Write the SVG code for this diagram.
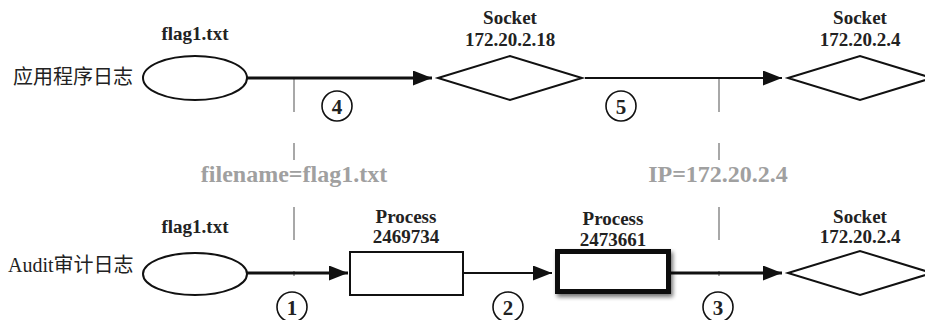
<svg xmlns="http://www.w3.org/2000/svg" width="925" height="320" viewBox="0 0 925 320">
  <defs>
    <marker id="arrow" markerUnits="userSpaceOnUse" markerWidth="19" markerHeight="15" refX="19" refY="7.5" orient="auto">
      <path d="M0,0 L19,7.5 L0,15 z" fill="#111"/>
    </marker>
    <filter id="shadow" x="-20%" y="-30%" width="150%" height="170%">
      <feGaussianBlur in="SourceAlpha" stdDeviation="2"/>
      <feOffset dx="2" dy="3" result="b"/>
      <feComponentTransfer><feFuncA type="linear" slope="0.55"/></feComponentTransfer>
      <feMerge><feMergeNode/><feMergeNode in="SourceGraphic"/></feMerge>
    </filter>
    <style>
      .shape { fill: #fff; stroke: #111; stroke-width: 2; }
      .bold-box { fill: #fff; stroke: #111; stroke-width: 5; }
      .lbl { font-family: "Liberation Serif", "Times New Roman", serif; font-weight: bold; font-size: 19px; fill: #222; text-anchor: middle; }
      .row { font-family: "Liberation Serif", "Noto Sans CJK SC", serif; font-size: 20px; fill: #222; }
      .cond { font-family: "Liberation Serif", serif; font-weight: bold; font-size: 24px; fill: #a0a0a0; text-anchor: middle; }
      .guide { stroke: #a8a8a8; stroke-width: 2; stroke-dasharray: 33 31; fill: none; }
      .edge { stroke: #111; fill: none; }
      .thick { stroke-width: 3; }
      .thin { stroke-width: 2; }
      .step circle { fill: #fff; stroke: #111; stroke-width: 1.6; }
      .step text { font-family: "Liberation Serif", serif; font-weight: bold; font-size: 21px; fill: #222; text-anchor: middle; }
    </style>
  </defs>

  <rect width="925" height="320" fill="#fff"/>

  <!-- row titles -->
  <text class="row" x="13" y="84">应用程序日志</text>
  <text class="row" x="8" y="272">Audit审计日志</text>

  <!-- dashed correlation guides -->
  <g id="guides">
    <line class="guide" x1="294" y1="79" x2="294" y2="276"/>
    <line class="guide" x1="719" y1="79" x2="719" y2="276"/>
    <rect x="195" y="160" width="200" height="27" fill="#fff"/>
    <rect x="640" y="160" width="160" height="27" fill="#fff"/>
    <text class="cond" x="294" y="182">filename=flag1.txt</text>
    <text class="cond" x="718" y="182">IP=172.20.2.4</text>
  </g>

  <!-- connectors -->
  <g id="edges">
    <line class="edge thick" x1="247" y1="78" x2="432" y2="78" marker-end="url(#arrow)"/>
    <line class="edge thin" x1="585" y1="78" x2="782" y2="78" marker-end="url(#arrow)"/>
    <line class="edge thick" x1="247" y1="273" x2="348" y2="273" marker-end="url(#arrow)"/>
    <line class="edge thin" x1="463" y1="273" x2="552" y2="273" marker-end="url(#arrow)"/>
    <line class="edge thick" x1="671" y1="273" x2="782" y2="273" marker-end="url(#arrow)"/>
  </g>

  <!-- application log row -->
  <g id="app-file">
    <ellipse class="shape" cx="195" cy="78" rx="52" ry="22"/>
    <text class="lbl" x="195" y="40">flag1.txt</text>
  </g>
  <g id="app-socket-18">
    <polygon class="shape" points="438,78 510,56 582,78 510,100"/>
    <text class="lbl" x="510" y="24">Socket</text>
    <text class="lbl" x="510" y="46">172.20.2.18</text>
  </g>
  <g id="app-socket-4">
    <polygon class="shape" points="788,78 860,56 932,78 860,100"/>
    <text class="lbl" x="860" y="24">Socket</text>
    <text class="lbl" x="860" y="46">172.20.2.4</text>
  </g>

  <!-- audit log row -->
  <g id="audit-file">
    <ellipse class="shape" cx="195" cy="274" rx="52" ry="21"/>
    <text class="lbl" x="195" y="233">flag1.txt</text>
  </g>
  <g id="process-2469734">
    <rect class="shape" x="350" y="252" width="113" height="43"/>
    <text class="lbl" x="406" y="223">Process</text>
    <text class="lbl" x="406" y="243">2469734</text>
  </g>
  <g id="process-2473661">
    <rect class="bold-box" x="557.5" y="251.5" width="111" height="40" filter="url(#shadow)"/>
    <text class="lbl" x="613" y="225">Process</text>
    <text class="lbl" x="613" y="246">2473661</text>
  </g>
  <g id="audit-socket-4">
    <polygon class="shape" points="788,273 860,251 932,273 860,295"/>
    <text class="lbl" x="860" y="223">Socket</text>
    <text class="lbl" x="860" y="243">172.20.2.4</text>
  </g>

  <!-- step numbers -->
  <g id="steps" class="step">
    <circle cx="337" cy="106" r="15"/><text x="337" y="113.5">4</text>
    <circle cx="621" cy="106" r="15"/><text x="621" y="113.5">5</text>
    <circle cx="292" cy="307" r="15"/><text x="292" y="314.5">1</text>
    <circle cx="508" cy="307" r="15"/><text x="508" y="314.5">2</text>
    <circle cx="718" cy="307" r="15"/><text x="718" y="314.5">3</text>
  </g>
</svg>
